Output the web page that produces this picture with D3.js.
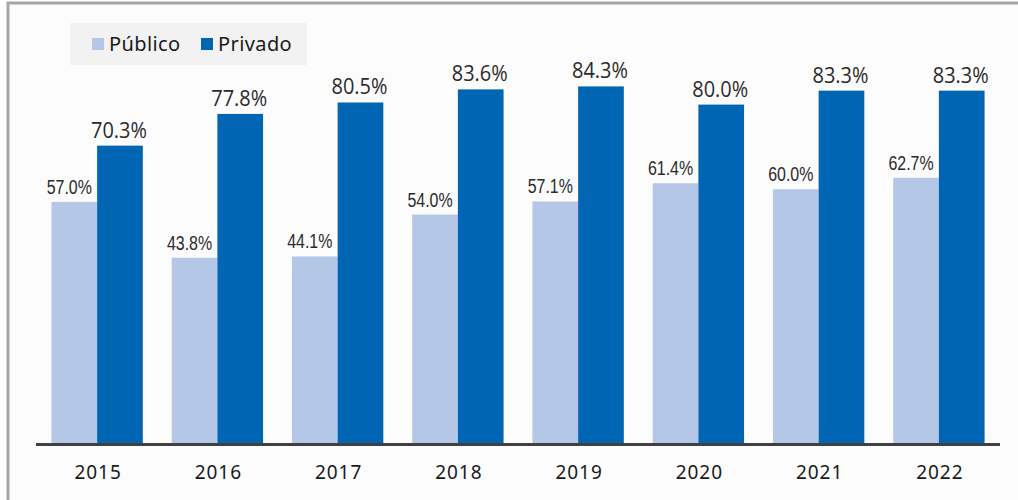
<!DOCTYPE html>
<html>
<head>
<meta charset="utf-8">
<script src="https://cdn.jsdelivr.net/npm/d3@7"></script>
<style>
  body { margin: 0; background: #fff; }
  svg { display: block; }
</style>
</head>
<body>
<div id="chart"></div>
<script>
// data
const years = ['2015', '2016', '2017', '2018', '2019', '2020', '2021', '2022'];
const series = ['Público', 'Privado'];
const publico = [57.0, 43.8, 44.1, 54.0, 57.1, 61.4, 60.0, 62.7];
const privado = [70.3, 77.8, 80.5, 83.6, 84.3, 80.0, 83.3, 83.3];

const config = {
    width: 1018,
    height: 500,
    colors: { 'Público': '#b4c7e7', 'Privado': '#0066b3' }
};

const rows = years.map((y, i) => ({ year: y, 'Público': publico[i], 'Privado': privado[i] }));

const svg = d3.select('#chart').append('svg')
    .attr('width', config.width)
    .attr('height', config.height);

// background + frame
svg.append('rect')
    .attr('x', 8).attr('y', 3)
    .attr('width', config.width + 10).attr('height', config.height + 10)
    .attr('fill', '#fcfcfc')
    .attr('stroke', '#a6a6a6')
    .attr('stroke-width', 3);

// scales
const x0 = d3.scaleBand()
    .domain(years)
    .range([37, 999])
    .paddingInner(0.24)
    .paddingOuter(0.12);

const x1 = d3.scaleBand()
    .domain(series)
    .range([0, x0.bandwidth()]);

const y = d3.scaleLinear()
    .domain([0, 100])
    .range([443, 20]);

// bars
const groups = svg.append('g')
    .selectAll('g')
    .data(rows)
    .enter().append('g')
    .attr('transform', d => `translate(${x0(d.year)},0)`);

groups.selectAll('rect')
    .data(d => series.map(s => ({ key: s, value: d[s] })))
    .enter().append('rect')
    .attr('x', d => x1(d.key))
    .attr('y', d => y(d.value))
    .attr('width', x1.bandwidth())
    .attr('height', d => y(0) - y(d.value))
    .attr('fill', d => config.colors[d.key]);

// value labels (the source fonts are narrow, so squeeze horizontally)
groups.selectAll('text.val')
    .data(d => series.map(s => ({ key: s, value: d[s] })))
    .enter().append('text')
    .attr('class', 'val')
    .attr('text-anchor', 'middle')
    .attr('fill', '#2b2b2b')
    .attr('font-family', d => d.key === 'Público' ? 'Liberation Sans, Arial, sans-serif' : 'Open Sans, sans-serif')
    .attr('font-size', 21)
    .attr('transform', d => {
        const cx = x1(d.key) + x1.bandwidth() / 2 + (d.key === 'Público' ? -5 : -1);
        const cy = y(d.value) - 8;
        const sx = d.key === 'Público' ? 0.76 : 0.95;
        return `translate(${cx},${cy}) scale(${sx},1)`;
    })
    .text(d => d.value.toFixed(1) + '%');

// baseline
svg.append('line')
    .attr('x1', 36).attr('x2', 1000)
    .attr('y1', y(0) + 1.5).attr('y2', y(0) + 1.5)
    .attr('stroke', '#404040')
    .attr('stroke-width', 3);

// x axis labels
svg.append('g')
    .selectAll('text')
    .data(years)
    .enter().append('text')
    .attr('x', d => x0(d) + x0.bandwidth() / 2 + 1)
    .attr('y', 479)
    .attr('text-anchor', 'middle')
    .attr('font-family', 'Noto Sans, sans-serif')
    .attr('font-size', 19)
    .attr('letter-spacing', 1)
    .attr('fill', '#1a1a1a')
    .text(d => d);

// legend
const legend = svg.append('g');
legend.append('rect')
    .attr('x', 70).attr('y', 23)
    .attr('width', 237).attr('height', 42)
    .attr('fill', '#f2f2f2');

const legendX = [92, 201];
const items = legend.selectAll('g')
    .data(series)
    .enter().append('g')
    .attr('transform', (d, i) => `translate(${legendX[i]},38)`);

items.append('rect')
    .attr('width', 12).attr('height', 12)
    .attr('fill', d => config.colors[d]);

items.append('text')
    .attr('x', 17).attr('y', 13)
    .attr('font-family', 'Noto Sans, sans-serif')
    .attr('font-size', 20)
    .attr('letter-spacing', 0.4)
    .attr('fill', '#1a1a1a')
    .text(d => d);
</script>
</body>
</html>
